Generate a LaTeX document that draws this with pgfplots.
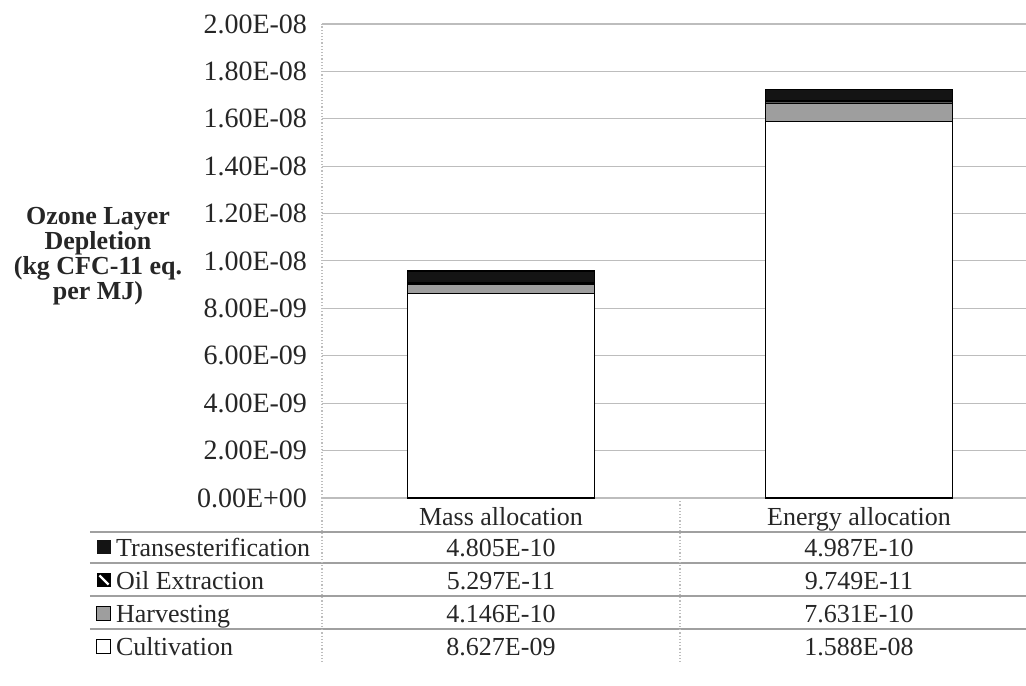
\documentclass[border=0pt]{standalone}
\usepackage{fontspec}
\setmainfont{Liberation Serif}
\usepackage{pgfplots}
\pgfplotsset{compat=1.18}

\definecolor{gridgray}{gray}{0.74}
\definecolor{harvest}{gray}{0.62}
\definecolor{oil}{gray}{0.35}
\definecolor{trans}{gray}{0.08}
\definecolor{txt}{gray}{0.15}

\begin{document}
\begin{tikzpicture}[font=\fontsize{13}{15}\selectfont, text=txt]
\useasboundingbox (-161pt,-93.5pt) rectangle (352pt,249pt);
\clip (-161pt,-93.5pt) rectangle (352pt,249pt);
\begin{axis}[
  at={(0pt,0pt)}, anchor=south west,
  scale only axis, width=358pt, height=237pt,
  xmin=-0.5, xmax=1.5, ymin=0, ymax=2e-8,
  ybar stacked, bar width=93.5pt,
  xtick={0,1}, xticklabels={Mass allocation, Energy allocation},
  ytick={0,2e-9,4e-9,6e-9,8e-9,1e-8,1.2e-8,1.4e-8,1.6e-8,1.8e-8,2e-8},
  yticklabels={0.00E+00,2.00E-09,4.00E-09,6.00E-09,8.00E-09,1.00E-08,1.20E-08,1.40E-08,1.60E-08,1.80E-08,2.00E-08},
  scaled y ticks=false,
  major tick length=0pt,
  yticklabel style={xshift=-4pt, text=txt, font=\fontsize{14}{16}\selectfont},
  xticklabel style={yshift=-1pt, text=txt},
  ymajorgrids, grid style={gridgray, line width=0.5pt},
  separate axis lines,
  every outer x axis line/.append style={gridgray, line width=0.6pt},
  every outer y axis line/.append style={gridgray, line width=0.6pt, densely dotted},
  every axis plot/.append style={draw=black, line width=0.8pt},
  clip=false,
]
% Cultivation
\addplot[fill=white] coordinates {(0,8.627e-9) (1,1.588e-8)};
% Harvesting
\addplot[fill=harvest] coordinates {(0,4.146e-10) (1,7.631e-10)};
% Oil Extraction
\addplot[fill=oil] coordinates {(0,5.297e-11) (1,9.749e-11)};
% Transesterification
\addplot[fill=trans] coordinates {(0,4.805e-10) (1,4.987e-10)};
\end{axis}

% y axis title
\node[align=center, font=\bfseries\fontsize{13}{12.5}\selectfont] at (-112pt,121pt)
  {Ozone Layer\\Depletion\\(kg CFC-11 eq.\\per MJ)};

% data table grid
\foreach \y in {-17,-32.5,-49,-65.5}
  \draw[gridgray!85!black, line width=0.6pt] (-116pt,\y pt) -- (357pt,\y pt);
\draw[gridgray, line width=0.6pt, densely dotted] (0pt,0pt) -- (0pt,-82pt);
\draw[gridgray, line width=0.6pt, densely dotted] (179pt,0pt) -- (179pt,-82pt);

% legend keys
\fill[trans] (-112.5pt,-28pt) rectangle (-105.5pt,-21pt);
\fill[black] (-112.5pt,-44.5pt) rectangle (-105.5pt,-37.5pt);
\draw[white, line width=1.1pt] (-111.3pt,-38.7pt) -- (-106.7pt,-43.3pt);
\filldraw[fill=harvest, draw=black, line width=0.5pt] (-112.5pt,-61pt) rectangle (-105.5pt,-54pt);
\draw[black, line width=0.5pt] (-112.5pt,-77.5pt) rectangle (-105.5pt,-70.5pt);

% row names (common baselines)
\node[anchor=base west] at (-106.5pt,-29pt) {Transesterification};
\node[anchor=base west] at (-106.5pt,-45.5pt) {Oil Extraction};
\node[anchor=base west] at (-106.5pt,-62pt) {Harvesting};
\node[anchor=base west] at (-106.5pt,-78.5pt) {Cultivation};

% values
\node[anchor=base] at (89.5pt,-29pt) {4.805E-10};
\node[anchor=base] at (89.5pt,-45.5pt) {5.297E-11};
\node[anchor=base] at (89.5pt,-62pt) {4.146E-10};
\node[anchor=base] at (89.5pt,-78.5pt) {8.627E-09};
\node[anchor=base] at (268.5pt,-29pt) {4.987E-10};
\node[anchor=base] at (268.5pt,-45.5pt) {9.749E-11};
\node[anchor=base] at (268.5pt,-62pt) {7.631E-10};
\node[anchor=base] at (268.5pt,-78.5pt) {1.588E-08};
\end{tikzpicture}
\end{document}
